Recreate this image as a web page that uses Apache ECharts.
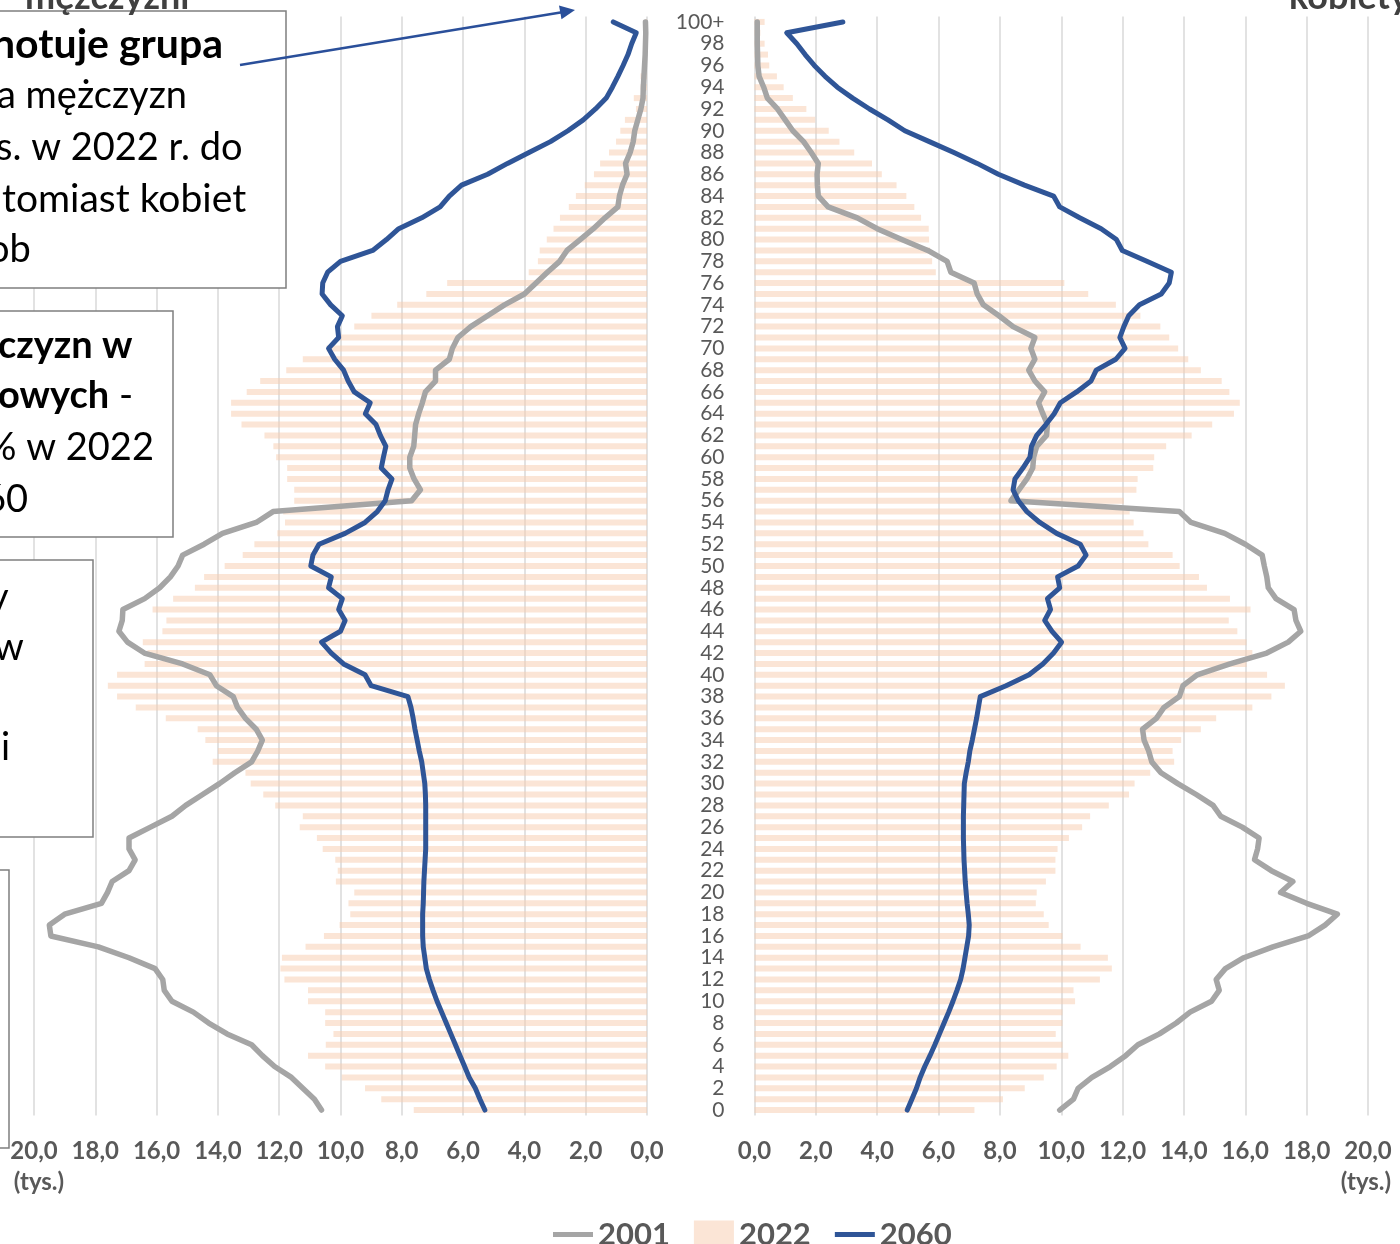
<!DOCTYPE html>
<html><head><meta charset="utf-8">
<script src="https://cdn.jsdelivr.net/npm/echarts@6/dist/echarts.min.js"></script>
<style>html,body{margin:0;padding:0;background:#fff}#c{width:1400px;height:1244px}</style>
</head><body><div id="c"></div><script>
const ages = ['0','1','2','3','4','5','6','7','8','9','10','11','12','13','14','15','16','17','18','19',
'20','21','22','23','24','25','26','27','28','29','30','31','32','33','34','35','36','37','38','39',
'40','41','42','43','44','45','46','47','48','49','50','51','52','53','54','55','56','57','58','59',
'60','61','62','63','64','65','66','67','68','69','70','71','72','73','74','75','76','77','78','79',
'80','81','82','83','84','85','86','87','88','89','90','91','92','93','94','95','96','97','98','99','100+'];

const men2022 = [7.61,8.67,9.2,9.96,10.5,11.06,10.48,10.23,10.5,10.5,
11.06,11.06,11.83,11.96,11.91,11.14,10.54,10.03,9.68,9.74,
9.55,10.15,10.09,10.17,10.58,10.77,11.33,11.23,12.13,12.52,
12.93,13.1,14.17,14.0,14.41,14.66,15.7,16.68,17.29,17.59,
17.29,16.39,16.3,16.45,15.81,15.68,16.13,15.46,14.75,14.45,
13.78,13.19,12.81,12.06,11.81,11.87,11.51,11.51,11.74,11.74,
12.1,12.19,12.48,13.23,13.57,13.57,13.06,12.62,11.77,11.23,
10.45,10.0,9.55,8.99,8.15,7.2,6.52,3.86,3.56,3.5,
3.27,3.05,2.84,2.55,2.32,2.03,1.73,1.53,1.24,1.01,
0.87,0.72,0.36,0.43,0.21,0.21,0.12,0.08,0.06,0.04,
0.05];

const men2001 = [10.62,10.85,11.23,11.6,12.15,12.55,12.9,13.7,14.3,14.8,
15.5,15.75,15.8,16.05,16.9,17.9,19.45,19.5,19.0,17.8,
17.6,17.45,16.9,16.7,16.9,16.9,16.2,15.5,15.05,14.5,
13.95,13.45,12.9,12.7,12.55,12.75,13.1,13.36,13.5,14.05,
14.26,15.15,16.4,16.95,17.23,17.12,17.1,16.39,15.9,15.55,
15.3,15.15,14.45,13.85,12.75,12.2,7.68,7.39,7.6,7.74,
7.74,7.61,7.58,7.55,7.45,7.33,7.23,6.9,6.9,6.45,
6.35,6.17,5.75,5.2,4.65,4.0,3.62,3.25,2.85,2.61,
2.18,1.75,1.37,0.95,0.9,0.8,0.65,0.7,0.55,0.45,
0.4,0.3,0.2,0.13,0.12,0.1,0.08,0.06,0.05,0.04,
0.05];

const men2060 = [5.29,5.45,5.6,5.8,5.95,6.1,6.25,6.4,6.55,6.7,
6.85,6.98,7.1,7.2,7.25,7.3,7.32,7.32,7.32,7.3,
7.29,7.28,7.26,7.24,7.22,7.22,7.22,7.22,7.22,7.23,
7.25,7.3,7.35,7.43,7.5,7.57,7.63,7.7,7.8,9.0,
9.2,9.9,10.3,10.62,10.0,9.85,10.06,9.94,10.39,10.3,
10.97,10.9,10.7,9.85,9.2,8.8,8.54,8.45,8.32,8.67,
8.6,8.52,8.7,8.84,9.19,9.03,9.55,9.75,9.9,10.19,
10.39,10.06,10.1,9.94,10.32,10.6,10.58,10.42,10.0,8.95,
8.5,8.1,7.35,6.75,6.45,6.05,5.2,4.55,3.85,3.15,
2.58,2.08,1.68,1.33,1.13,0.95,0.78,0.62,0.5,0.35,
1.1];

const women2022 = [7.17,8.1,8.81,9.43,9.85,10.23,10.04,9.82,10.04,10.04,
10.45,10.4,11.26,11.65,11.52,10.63,10.04,9.59,9.43,9.17,
9.2,9.5,9.81,9.81,9.88,10.25,10.68,10.94,11.55,12.21,
12.39,12.9,13.68,13.63,13.91,14.55,15.05,16.23,16.85,17.29,
16.71,16.04,16.23,16.04,15.74,15.46,16.17,15.5,14.75,14.49,
13.86,13.63,12.84,12.68,12.36,12.23,12.04,12.45,12.49,13.0,
13.03,13.42,14.25,14.92,15.63,15.82,15.48,15.23,14.55,14.14,
13.81,13.52,13.23,12.58,11.78,10.88,10.1,5.91,5.79,5.72,
5.69,5.68,5.43,5.21,4.95,4.63,4.15,3.83,3.25,2.77,
2.42,1.98,1.69,1.25,0.95,0.73,0.48,0.44,0.33,0.19,
0.33];

const women2001 = [9.95,10.4,10.55,11.0,11.6,12.1,12.5,13.2,13.75,14.2,
14.9,15.15,15.05,15.35,15.95,16.9,18.05,18.6,19.0,18.0,
17.15,17.55,16.85,16.3,16.4,16.45,15.9,15.2,14.95,14.4,
13.8,13.25,12.95,12.85,12.7,12.65,13.1,13.35,13.85,13.97,
14.43,15.5,16.7,17.4,17.81,17.65,17.59,17.0,16.75,16.7,
16.62,16.55,16.0,15.33,14.23,13.85,8.36,8.62,8.88,9.07,
9.1,9.2,9.52,9.55,9.4,9.26,9.46,9.14,8.94,9.14,
9.01,9.14,8.43,7.97,7.46,7.26,7.16,6.4,6.28,5.65,
4.8,4.0,3.35,2.4,2.08,2.05,2.04,2.08,1.85,1.6,
1.25,1.0,0.75,0.42,0.3,0.15,0.11,0.1,0.09,0.09,
0.09];

const women2060 = [4.98,5.13,5.28,5.4,5.55,5.72,5.88,6.03,6.18,6.33,
6.47,6.6,6.72,6.8,6.86,6.92,6.98,7.0,6.97,6.93,
6.9,6.87,6.85,6.83,6.82,6.81,6.81,6.81,6.82,6.83,
6.84,6.9,6.97,7.02,7.1,7.17,7.24,7.3,7.36,8.2,
8.95,9.4,9.75,10.01,9.7,9.46,9.65,9.55,9.95,9.88,
10.55,10.81,10.62,9.85,9.3,8.88,8.6,8.43,8.49,8.75,
8.98,9.03,9.2,9.5,9.77,9.97,10.5,10.97,11.14,11.78,
12.08,11.91,12.04,12.2,12.55,13.26,13.52,13.59,12.79,11.99,
11.8,11.3,10.6,9.95,9.75,8.8,7.95,7.26,6.5,5.7,
4.9,4.35,3.75,3.2,2.7,2.3,1.95,1.65,1.38,1.05,
2.88];

const seriesNames = ['2001', '2022', '2060'];
const unitLabel = '(tys.)';
const titleMen = 'mężczyźni';
const titleWomen = 'kobiety';

const GRAY = '#a5a5a5', BLUE = '#2f5597', PEACH = 'rgba(248,203,173,0.5)';
const LBL = '#595959';
const fmt = v => v.toFixed(1).replace('.', ',');

function xAx(grid, inverse) {
  return {
    gridIndex: grid, type: 'value', min: 0, max: 20, interval: 2, inverse: inverse,
    axisLine: {show: false}, axisTick: {show: false},
    splitLine: {show: true, lineStyle: {color: '#d9d9d9', width: 1.5}},
    axisLabel: {formatter: fmt, color: LBL, fontFamily: 'Lato', fontWeight: 'bold', fontSize: 24, margin: 24, showMinLabel: true, showMaxLabel: true}
  };
}
function yAx(grid, showLabels) {
  return {
    gridIndex: grid, type: 'category', data: ages, position: 'left',
    axisLine: {show: false}, axisTick: {show: false}, splitLine: {show: false},
    axisLabel: {show: showLabels, interval: 1, margin: 30, color: LBL, fontFamily: 'Lato', fontSize: 21, align: 'right'}
  };
}
function lineS(name, data, grid, color, w) {
  return {name: name, type: 'line', xAxisIndex: grid, yAxisIndex: grid, data: data, symbol: 'none',
    lineStyle: {color: color, width: w, cap: 'round', join: 'round'}, itemStyle: {color: color}, z: 3};
}
function barS(name, data, grid) {
  return {name: name, type: 'bar', xAxisIndex: grid, yAxisIndex: grid, data: data, barWidth: 6,
    itemStyle: {color: PEACH}, z: 2};
}

function txt(x, y, text, font, opts) {
  return Object.assign({type: 'text', x: x, y: y, z: 100,
    style: {text: text, font: font, fill: '#000', align: 'left', verticalAlign: 'middle', textAlign: 'left', textVerticalAlign: 'middle'}}, opts || {});
}
const boxStyle = {fill: '#fff', stroke: '#7f7f7f', lineWidth: 1.5};
const F = '38px Lato', FB = 'bold 38px Lato';

const chart = echarts.init(document.getElementById('c'), null, {renderer: 'canvas'});
chart.setOption({
  animation: false,
  backgroundColor: '#fff',
  grid: [
    {left: 34, width: 613, top: 16.5, height: 1099},
    {left: 754.5, width: 613.5, top: 16.5, height: 1099}
  ],
  xAxis: [xAx(0, true), xAx(1, false)],
  yAxis: [yAx(0, false), yAx(1, true)],
  legend: {
    data: [
      {name: seriesNames[0], icon: 'path://M0,0H40V5H0Z'},
      {name: seriesNames[1], icon: 'rect'},
      {name: seriesNames[2], icon: 'path://M0,0H40V5H0Z'}
    ],
    left: 548, top: 1214, itemWidth: 40, itemHeight: 28, itemGap: 24,
    textStyle: {fontFamily: 'Lato', fontWeight: 'bold', fontSize: 31, color: LBL}
  },
  series: [
    barS(seriesNames[1], men2022, 0),
    barS(seriesNames[1], women2022, 1),
    lineS(seriesNames[0], men2001, 0, GRAY, 5.5),
    lineS(seriesNames[0], women2001, 1, GRAY, 5.5),
    lineS(seriesNames[2], men2060, 0, BLUE, 5),
    lineS(seriesNames[2], women2060, 1, BLUE, 5)
  ],
  graphic: [
    txt(25, -3, titleMen, 'bold 36px Lato', {style: {text: titleMen, font: 'bold 36px Lato', fill: '#404040', verticalAlign: 'middle', textVerticalAlign: 'middle'}}),
    txt(1289, -3, titleWomen, 'bold 36px Lato', {style: {text: titleWomen, font: 'bold 36px Lato', fill: '#404040', verticalAlign: 'middle', textVerticalAlign: 'middle'}}),
    txt(39, 1182, unitLabel, 'bold 24px Lato', {style: {text: unitLabel, font: 'bold 24px Lato', fill: LBL, align: 'center', textAlign: 'center', verticalAlign: 'middle', textVerticalAlign: 'middle'}}),
    txt(1366, 1182, unitLabel, 'bold 24px Lato', {style: {text: unitLabel, font: 'bold 24px Lato', fill: LBL, align: 'center', textAlign: 'center', verticalAlign: 'middle', textVerticalAlign: 'middle'}}),
    {type: 'rect', z: 90, shape: {x: -5, y: 11, width: 291, height: 277}, style: boxStyle},
    {type: 'rect', z: 90, shape: {x: -5, y: 311, width: 178, height: 226}, style: boxStyle},
    {type: 'rect', z: 90, shape: {x: -5, y: 560, width: 98, height: 277}, style: boxStyle},
    {type: 'rect', z: 90, shape: {x: -5, y: 870, width: 14, height: 278}, style: boxStyle},
    txt(-8, 45, 'notuje grupa', 'bold 41px Lato'),
    txt(-3, 96, 'a mężczyzn', F),
    txt(-4, 148, 's. w 2022 r. do', F),
    txt(2, 199, 'tomiast kobiet', '39px Lato'),
    txt(-12, 250, 'ob', F),
    txt(-2, 346, 'czyzn w', FB),
    {type: 'text', x: -2, y: 396, z: 100, style: {text: '{b|owych} -', font: F, fill: '#000', verticalAlign: 'middle', textVerticalAlign: 'middle', rich: {b: {font: FB, fill: '#000'}}}},
    txt(-14, 448, '% w 2022', F),
    txt(-60, 500, '2060', F),
    txt(-11, 598, 'y', F),
    txt(-6, 648, 'w', F),
    txt(1, 748, 'i', F),
    {type: 'line', z: 100, shape: {x1: 240, y1: 65, x2: 562, y2: 12.3}, style: {stroke: '#2a4f9a', lineWidth: 2.5}},
    {type: 'polygon', z: 100, shape: {points: [[575, 10], [559, 5.5], [561.5, 19.3]]}, style: {fill: '#2a4f9a'}}
  ]
});
</script></body></html>
